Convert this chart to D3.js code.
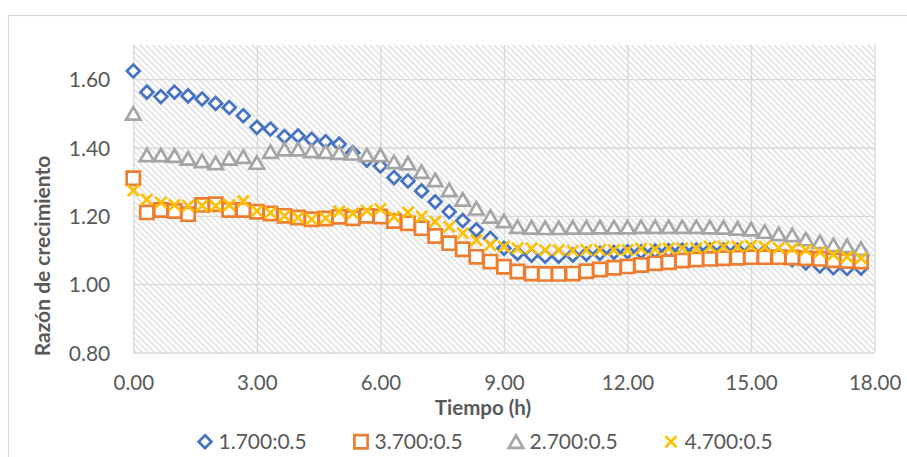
<!DOCTYPE html>
<html>
<head>
<meta charset="utf-8">
<script src="https://cdn.jsdelivr.net/npm/d3@7"></script>
<style>
  html, body { margin: 0; padding: 0; background: #ffffff; }
  svg { display: block; }
</style>
</head>
<body>
<svg id="chart" width="907" height="457"></svg>
<script>
// Sampling times (h), one reading every 20 minutes
const hours = [
  0, 0.33, 0.67, 1, 1.33, 1.67, 2, 2.33, 2.67, 3,
  3.33, 3.67, 4, 4.33, 4.67, 5, 5.33, 5.67, 6, 6.33,
  6.67, 7, 7.33, 7.67, 8, 8.33, 8.67, 9, 9.33, 9.67,
  10, 10.33, 10.67, 11, 11.33, 11.67, 12, 12.33, 12.67, 13,
  13.33, 13.67, 14, 14.33, 14.67, 15, 15.33, 15.67, 16, 16.33,
  16.67, 17, 17.33, 17.67
];

// Growth ratio per condition
const ratio1700 = [
  1.624, 1.562, 1.549, 1.562, 1.551, 1.542, 1.529, 1.517, 1.493, 1.459,
  1.454, 1.432, 1.434, 1.424, 1.417, 1.410, 1.385, 1.363, 1.346, 1.312,
  1.302, 1.273, 1.241, 1.212, 1.186, 1.159, 1.134, 1.105, 1.090, 1.085,
  1.082, 1.082, 1.085, 1.088, 1.090, 1.093, 1.095, 1.095, 1.097, 1.098,
  1.100, 1.100, 1.100, 1.100, 1.100, 1.098, 1.095, 1.088, 1.072, 1.062,
  1.053, 1.048, 1.046, 1.047
];
const ratio3700 = [
  1.310, 1.210, 1.217, 1.214, 1.205, 1.232, 1.234, 1.217, 1.217, 1.212,
  1.207, 1.200, 1.195, 1.190, 1.192, 1.197, 1.193, 1.200, 1.198, 1.185,
  1.178, 1.164, 1.141, 1.120, 1.102, 1.080, 1.066, 1.051, 1.037, 1.031,
  1.030, 1.030, 1.031, 1.038, 1.043, 1.048, 1.052, 1.056, 1.061, 1.064,
  1.069, 1.072, 1.074, 1.076, 1.077, 1.079, 1.079, 1.079, 1.078, 1.076,
  1.074, 1.070, 1.068, 1.066
];
const ratio2700 = [
  1.500, 1.378, 1.378, 1.376, 1.368, 1.361, 1.355, 1.368, 1.373, 1.356,
  1.388, 1.395, 1.395, 1.390, 1.388, 1.385, 1.383, 1.378, 1.378, 1.358,
  1.354, 1.329, 1.305, 1.276, 1.248, 1.222, 1.198, 1.185, 1.168, 1.166,
  1.165, 1.165, 1.166, 1.166, 1.167, 1.167, 1.167, 1.168, 1.168, 1.168,
  1.168, 1.168, 1.167, 1.166, 1.163, 1.161, 1.154, 1.147, 1.144, 1.132,
  1.124, 1.115, 1.112, 1.104
];
const ratio4700 = [
  1.274, 1.248, 1.239, 1.232, 1.229, 1.230, 1.229, 1.232, 1.243, 1.214,
  1.209, 1.200, 1.195, 1.190, 1.193, 1.213, 1.207, 1.215, 1.220, 1.197,
  1.210, 1.198, 1.183, 1.168, 1.149, 1.129, 1.115, 1.110, 1.105, 1.105,
  1.100, 1.100, 1.098, 1.100, 1.100, 1.100, 1.100, 1.104, 1.102, 1.105,
  1.105, 1.105, 1.110, 1.110, 1.110, 1.112, 1.110, 1.106, 1.104, 1.100,
  1.094, 1.086, 1.080, 1.076
];

const seriesNames  = ["1.700:0.5", "3.700:0.5", "2.700:0.5", "4.700:0.5"];
const seriesValues = [ratio1700, ratio3700, ratio2700, ratio4700];
const seriesColors = ["#4472C4", "#ED7D31", "#A5A5A5", "#FFC000"];
const seriesMarks  = ["diamond", "square", "triangle", "cross"];

const xTicks = [0, 3, 6, 9, 12, 15, 18];
const yTicks = [0.8, 1.0, 1.2, 1.4, 1.6];
const xTitle = "Tiempo (h)";
const yTitle = "Razón de crecimiento";

const svg = d3.select("#chart");
const plot = { left: 133.3, right: 874.6, top: 45, bottom: 352.5 };
const textColor = "#595959";
const gridColor = "#d9d9d9";
const fontFamily = "Lato, 'Open Sans', sans-serif";

const x = d3.scaleLinear().domain([0, 18]).range([plot.left, plot.right]);
const y = d3.scaleLinear().domain([0.8, 1.7]).range([plot.bottom, plot.top]);

// Chart frame
svg.append("rect")
  .attr("x", 8.5).attr("y", 15.5)
  .attr("width", 1200).attr("height", 1200)
  .attr("fill", "#ffffff")
  .attr("stroke", gridColor).attr("stroke-width", 1.2);

// Downward diagonal hatch for the plot area
const defs = svg.append("defs");
const pat = defs.append("pattern")
  .attr("id", "hatch")
  .attr("patternUnits", "userSpaceOnUse")
  .attr("width", 4.4).attr("height", 10)
  .attr("patternTransform", "rotate(-45)");
pat.append("rect").attr("width", 4.4).attr("height", 10).attr("fill", "#ffffff");
pat.append("line")
  .attr("x1", 1).attr("y1", 0).attr("x2", 1).attr("y2", 10)
  .attr("stroke", "#dcdcdc").attr("stroke-width", 1.3);

svg.append("rect")
  .attr("x", plot.left).attr("y", plot.top)
  .attr("width", plot.right - plot.left)
  .attr("height", plot.bottom - plot.top)
  .attr("fill", "url(#hatch)");

// Y axis with horizontal gridlines
const yAxis = svg.append("g")
  .attr("transform", `translate(${plot.left},0)`)
  .call(d3.axisLeft(y).tickValues(yTicks)
    .tickSize(-(plot.right - plot.left))
    .tickPadding(23)
    .tickFormat(d3.format(".2f")));
yAxis.select(".domain").remove();
yAxis.selectAll(".tick line").attr("stroke", gridColor).attr("stroke-width", 1.3);
yAxis.selectAll(".tick text")
  .attr("fill", textColor)
  .attr("font-family", fontFamily)
  .attr("font-size", 21)
  .attr("dy", "0.36em");

// X axis with vertical gridlines
const xAxis = svg.append("g")
  .attr("transform", `translate(0,${plot.bottom})`)
  .call(d3.axisBottom(x).tickValues(xTicks)
    .tickSize(-(plot.bottom - plot.top))
    .tickPadding(0)
    .tickFormat(d3.format(".2f")));
xAxis.select(".domain").remove();
xAxis.selectAll(".tick line").attr("stroke", gridColor).attr("stroke-width", 1.3);
xAxis.selectAll(".tick text")
  .attr("fill", textColor)
  .attr("font-family", fontFamily)
  .attr("font-size", 20.5)
  .attr("y", 37.5)
  .attr("dy", 0);

// Axis titles
svg.append("text")
  .attr("x", 483).attr("y", 415)
  .attr("text-anchor", "middle")
  .attr("fill", textColor)
  .attr("font-family", fontFamily)
  .attr("font-weight", "bold")
  .attr("font-size", 20.5)
  .text(xTitle);

svg.append("text")
  .attr("transform", "translate(50,256) rotate(-90)")
  .attr("text-anchor", "middle")
  .attr("fill", textColor)
  .attr("font-family", fontFamily)
  .attr("font-weight", "bold")
  .attr("font-size", 21)
  .text(yTitle);

// Marker shapes, centred on the data point
const markerPath = {
  diamond:  "M0,-6.4L6.4,0L0,6.4L-6.4,0Z",
  square:   "M-6.6,-6.6H6.6V6.6H-6.6Z",
  triangle: "M0,-6.2L7.2,6.2L-7.2,6.2Z",
  cross:    "M-5.6,-5.6L5.6,5.6M5.6,-5.6L-5.6,5.6"
};

function drawMarker(sel, kind, color) {
  sel.attr("d", markerPath[kind])
    .attr("fill", kind === "cross" ? "none" : "#ffffff")
    .attr("stroke", color)
    .attr("stroke-width", 2.7)
    .attr("stroke-linejoin", "miter");
}

// Series markers
seriesValues.forEach((vals, s) => {
  const g = svg.append("g").attr("class", "series");
  g.selectAll("path")
    .data(hours.map((h, i) => ({ h, v: vals[i] })))
    .join("path")
    .attr("transform", d => `translate(${x(d.h)},${y(d.v)})`)
    .call(drawMarker, seriesMarks[s], seriesColors[s]);
});

// Legend
const legendX = [205, 361, 516, 671];
const legendY = 441.7;
seriesNames.forEach((name, s) => {
  const g = svg.append("g").attr("transform", `translate(${legendX[s]},${legendY})`);
  g.append("path").call(drawMarker, seriesMarks[s], seriesColors[s]);
  g.append("text")
    .attr("x", 13.5).attr("y", 7)
    .attr("fill", textColor)
    .attr("font-family", fontFamily)
    .attr("font-size", 21)
    .text(name);
});
</script>
</body>
</html>
